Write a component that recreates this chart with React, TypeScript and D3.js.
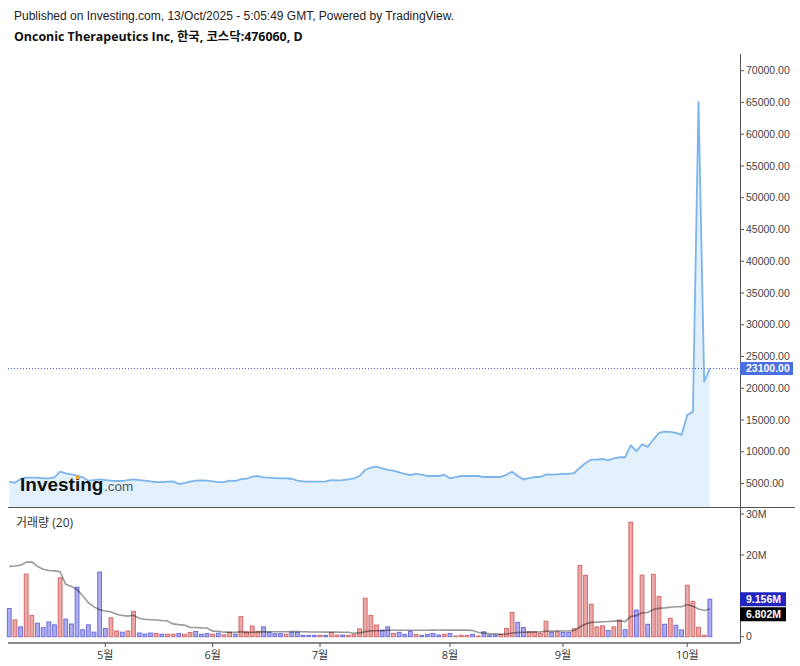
import React from 'react';
import * as d3 from 'd3';

// ---- Data ----
const monthLabels = ['5월', '6월', '7월', '8월', '9월', '10월'];
const monthStartIndex = [17, 36, 55, 78, 98, 120];

const priceClose = [
  5280, 5130, 5700, 5920, 5920, 5920, 5810, 5810, 5970, 6860,
  6600, 6440, 6230, 5970, 5440, 5540, 5650, 5540, 5440, 5390,
  5390, 5540, 5650, 5540, 5440, 5330, 5230, 5230, 5280, 5330,
  4920, 5070, 5280, 5440, 5490, 5440, 5330, 5230, 5230, 5440,
  5390, 5700, 5750, 6070, 6180, 5970, 5920, 5860, 5810, 5810,
  5750, 5440, 5330, 5280, 5280, 5280, 5330, 5540, 5490, 5540,
  5650, 5810, 6180, 7130, 7490, 7650, 7390, 7130, 7020, 6750,
  6500, 6340, 6500, 6400, 6180, 6180, 6180, 6390, 5810, 6020,
  6180, 6180, 6180, 6180, 6020, 6020, 6020, 6020, 6390, 6860,
  6180, 5650, 5860, 6020, 6020, 6440, 6390, 6440, 6500, 6500,
  6650, 7490, 8230, 8750, 8750, 8860, 8650, 8970, 9130, 9130,
  11020, 10080, 11180, 10760, 11920, 12970, 13180, 13130, 12970, 12650,
  15800, 16280, 65100, 21030, 23100,
];

// volume in millions
const volumeM = [
  6.9, 4.1, 2.4, 15.3, 5.2, 3.3, 2.2, 3.6, 2.9, 14.4,
  4.3, 3.1, 12.1, 1.7, 2.9, 1.1, 15.8, 2.0, 4.6, 1.4,
  1.1, 1.4, 6.2, 0.9, 0.65, 0.9, 0.8, 0.6, 0.6, 0.6,
  0.8, 0.6, 1.0, 1.3, 0.6, 0.8, 0.6, 0.85, 0.45, 1.1,
  0.6, 4.9, 1.2, 2.6, 1.3, 2.4, 1.1, 0.75, 0.75, 0.6,
  1.1, 1.1, 0.33, 0.33, 0.33, 0.33, 0.33, 1.06, 0.4, 0.4,
  0.33, 0.5, 1.9, 9.4, 5.2, 2.85, 1.6, 2.4, 0.8, 1.06,
  0.57, 1.3, 0.57, 0.33, 0.57, 0.8, 0.4, 0.57, 0.8, 0.16,
  0.33, 0.33, 0.57, 0.16, 1.2, 0.4, 0.4, 0.57, 2.0, 5.9,
  3.5, 2.25, 1.2, 1.2, 0.8, 3.8, 1.06, 1.2, 1.06, 1.06,
  1.95, 17.4, 15.0, 7.95, 2.4, 2.65, 1.5, 2.4, 4.05, 1.7,
  28.0, 6.5, 15.05, 3.05, 15.25, 9.85, 3.05, 4.5, 2.8, 1.65,
  12.55, 8.65, 2.3, 0.37, 9.156,
];

// 1 = up (red), 0 = down (blue)
const volumeUp = [
  0, 1, 0, 1, 1, 0, 0, 0, 0, 1,
  0, 0, 0, 0, 0, 0, 0, 0, 1, 1,
  0, 1, 1, 0, 0, 0, 1, 0, 1, 1,
  0, 1, 1, 0, 0, 0, 1, 0, 1, 1,
  0, 1, 1, 1, 1, 0, 0, 0, 0, 1,
  0, 0, 0, 0, 0, 1, 0, 1, 1, 0,
  1, 1, 1, 1, 1, 1, 0, 0, 1, 0,
  0, 0, 1, 0, 0, 0, 0, 1, 0, 1,
  1, 1, 0, 1, 0, 0, 0, 1, 1, 1,
  0, 0, 1, 1, 1, 1, 0, 1, 0, 0,
  1, 1, 1, 1, 1, 1, 0, 1, 1, 0,
  1, 0, 1, 0, 1, 1, 0, 1, 0, 0,
  1, 1, 1, 1, 0,
];

// 20-day MA values before a full 20-bar window is visible
const volumeMaLead = [
  17.2, 17.3, 17.5, 18.2, 18.3, 17.2, 16.5, 16.2, 16.1, 15.9,
  12.8, 12.3, 11.5, 10.0, 8.3, 7.3, 6.6, 6.3, 6.1,
];

const priceTicks = [5000, 10000, 15000, 20000, 25000, 30000, 35000, 40000, 45000, 50000, 55000, 60000, 65000, 70000];
const volumeTicks = [0, 10, 20, 30];
const volumeTickLabels = ['0', '10M', '20M', '30M'];
const lastPrice = 23100;
const lastVolumeLabel = '9.156M';
const lastMaLabel = '6.802M';

const headerLine1 = 'Published on Investing.com, 13/Oct/2025 - 5:05:49 GMT, Powered by TradingView.';
const headerLine2 = 'Onconic Therapeutics Inc, 한국, 코스닥:476060, D';
const volumeTitle = '거래량 (20)';

// ---- Layout ----
const W = 800;
const H = 666;
const axisX = 740;
const paneLeft = 8;
const priceBottom = 507;
const xAxisY = 643;

export default function App() {
  const n = priceClose.length;
  const x = d3.scaleLinear().domain([0, n - 1]).range([9.25, 9.25 + 5.65 * (n - 1)]);
  const y = d3.scaleLinear().domain([5000, 70000]).range([483.5, 70.7]);
  const yv = d3.scaleLinear().domain([0, 30]).range([636.7, 514]);

  const ma = volumeM.map((_, i) => {
    if (i < volumeMaLead.length) return volumeMaLead[i];
    return d3.mean(volumeM.slice(i - 19, i + 1)) as number;
  });

  const area = d3.area<number>().x((_, i) => x(i)).y0(priceBottom).y1((d) => y(d));
  const line = d3.line<number>().x((_, i) => x(i)).y((d) => y(d));
  const maLine = d3.line<number>().x((_, i) => x(i)).y((d) => yv(d)).curve(d3.curveLinear);

  const barW = 3.8;
  const sans = "'Liberation Sans', Arial, sans-serif";
  const kr = "'Open Sans', 'Noto Sans CJK KR', sans-serif";

  const lastVolY = yv(volumeM[n - 1]);
  const maLabelY = Math.max(yv(ma[n - 1]), lastVolY + 15);
  const priceY = y(lastPrice);

  // hide axis labels covered by the last-value boxes (as TradingView does)
  const visibleVolTick = (t: number) =>
    Math.abs(yv(t) - lastVolY) > 9 && Math.abs(yv(t) - maLabelY) > 9;
  const visiblePriceTick = (t: number) => Math.abs(y(t) - priceY) > 9;

  return (
    <svg width={W} height={H} style={{ position: 'absolute', left: 0, top: 0, background: '#fff' }}>
      <rect x={0} y={0} width={W} height={H} fill="#fff" />
      <text x={14} y={20} fontFamily={sans} fontSize={12} fill="#222">{headerLine1}</text>
      <text x={14} y={41} fontFamily={kr} fontSize={12.4} fontWeight="bold" fill="#111">{headerLine2}</text>

      {/* price area */}
      <path d={area(priceClose) || ''} fill="#e2f1fb" />
      <path d={line(priceClose) || ''} fill="none" stroke="#7db4ea" strokeWidth={1.8} strokeLinejoin="round" />

      {/* logo */}
      <g>
        <text x={20} y={491} fontFamily={sans} fontWeight="bold" fontSize={19} fill="#111">Investing</text>
        <circle cx={77.8} cy={477.3} r={2.1} fill="#f5a623" />
        <text x={104} y={491} fontFamily={sans} fontSize={13.5} fill="#555">.com</text>
      </g>

      {/* last price dotted line */}
      <line x1={paneLeft} x2={axisX} y1={priceY} y2={priceY} stroke="#3a5ddc" strokeWidth={1} strokeDasharray="1 2" />

      {/* pane divider */}
      <line x1={paneLeft} x2={795} y1={priceBottom + 0.5} y2={priceBottom + 0.5} stroke="#555" strokeWidth={1} />

      {/* volume title */}
      <text x={16} y={527} fontFamily={kr} fontSize={12} fill="#333">{volumeTitle}</text>

      {/* volume bars */}
      {volumeM.map((v, i) => {
        const up = volumeUp[i] === 1;
        const top = yv(v);
        const h = Math.max(0.5, yv(0) - top);
        return (
          <rect
            key={i}
            x={x(i) - barW / 2}
            y={top}
            width={barW}
            height={h}
            fill={up ? '#eaa9a9' : '#aeaeec'}
            stroke={up ? '#d46a6a' : '#6d6dde'}
            strokeWidth={1}
          />
        );
      })}

      {/* volume MA */}
      <path d={maLine(ma) || ''} fill="none" stroke="#000" strokeOpacity={0.4} strokeWidth={1.6} />

      {/* right axis */}
      <line x1={axisX + 0.5} x2={axisX + 0.5} y1={54} y2={xAxisY} stroke="#555" strokeWidth={1} />
      {priceTicks.map((t) => (
        <g key={t}>
          <line x1={axisX} x2={axisX + 4} y1={y(t)} y2={y(t)} stroke="#555" />
          {visiblePriceTick(t) && (
            <text x={746} y={y(t)} dy="0.35em" fontFamily={sans} fontSize={10.5} fill="#444">{d3.format('.2f')(t)}</text>
          )}
        </g>
      ))}
      {volumeTicks.map((t, i) => (
        <g key={'v' + t}>
          <line x1={axisX} x2={axisX + 4} y1={yv(t)} y2={yv(t)} stroke="#555" />
          {visibleVolTick(t) && (
            <text x={746} y={yv(t)} dy="0.35em" fontFamily={sans} fontSize={10.5} fill="#444">{volumeTickLabels[i]}</text>
          )}
        </g>
      ))}

      {/* last price label */}
      <rect x={740} y={priceY - 6.5} width={53} height={13} fill="#4a6ee0" />
      <text x={746} y={priceY} dy="0.35em" fontFamily={sans} fontSize={10.5} fontWeight="bold" fill="#fff">{d3.format('.2f')(lastPrice)}</text>

      {/* volume labels */}
      <rect x={740} y={lastVolY - 7} width={46} height={14} fill="#2323bf" />
      <text x={746} y={lastVolY} dy="0.35em" fontFamily={sans} fontSize={10.5} fontWeight="bold" fill="#fff">{lastVolumeLabel}</text>
      <rect x={740} y={maLabelY - 7} width={46} height={14} fill="#000" />
      <text x={746} y={maLabelY} dy="0.35em" fontFamily={sans} fontSize={10.5} fontWeight="bold" fill="#fff">{lastMaLabel}</text>

      {/* bottom axis */}
      <line x1={paneLeft} x2={axisX} y1={xAxisY} y2={xAxisY} stroke="#888" strokeWidth={2} />
      {monthStartIndex.map((idx, i) => (
        <g key={monthLabels[i]}>
          <line x1={x(idx)} x2={x(idx)} y1={xAxisY} y2={xAxisY + 4} stroke="#555" />
          <text x={x(idx)} y={659} textAnchor="middle" fontFamily={kr} fontSize={11} fill="#333">{monthLabels[i]}</text>
        </g>
      ))}
    </svg>
  );
}
